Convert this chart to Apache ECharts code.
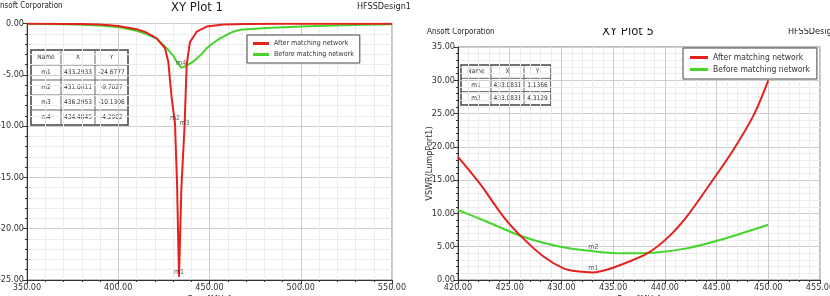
<!DOCTYPE html>
<html>
<head>
<meta charset="utf-8">
<script src="https://cdn.jsdelivr.net/npm/echarts@6/dist/echarts.min.js"></script>
<style>
  html, body { margin: 0; padding: 0; background: #fff; }
  #chart { width: 830px; height: 296px; }
</style>
</head>
<body>
<div id="chart"></div>
<script>
// ---- XY Plot 1 : dB(S(1,1)) vs Freq ----
const s11FreqAfter = [350, 360, 370, 380, 390, 400, 410, 415, 421, 425.6, 427.4, 429.3, 431.08, 432.2, 433.29, 434.6, 436.3, 437.5, 439.3, 443, 448.5, 457.5, 470, 490, 520, 550];
const s11After     = [-0.02, -0.03, -0.04, -0.06, -0.1, -0.25, -0.55, -0.85, -1.45, -2.4, -3.7, -7.3, -9.70, -15.5, -24.68, -16.0, -10.13, -4.0, -1.8, -0.8, -0.3, -0.1, -0.05, -0.03, -0.02, -0.02];
const s11FreqBefore = [350, 370, 380, 390, 400, 410, 415, 421, 426.5, 430, 432, 434.48, 435.7, 438, 441.2, 445, 448.5, 452, 455.8, 460, 463, 467, 475, 481.5, 500, 518, 535, 550];
const s11Before     = [-0.03, -0.08, -0.12, -0.2, -0.35, -0.7, -1.0, -1.45, -2.4, -3.1, -3.7, -4.30, -4.25, -4.05, -3.7, -3.1, -2.4, -1.9, -1.45, -1.05, -0.8, -0.6, -0.5, -0.45, -0.3, -0.2, -0.12, -0.08];
const s11MarkerNames = ['m1', 'm2', 'm3', 'm4'];
const s11MarkerX = ['433.2933', '431.0811', '436.2953', '434.4845'];
const s11MarkerY = ['-24.6777', '-9.7027', '-10.1306', '-4.2962'];

// ---- XY Plot 5 : VSWR(LumpPort1) vs Freq ----
const vswrFreqAfter = [420, 422.1, 424.4, 426.3, 428.3, 430.2, 431.5, 433.08, 434.3, 435.7, 438.3, 440.2, 442.1, 444.4, 446.6, 448.6, 450];
const vswrAfter     = [18.5, 14.5, 9.5, 6.25, 3.5, 1.75, 1.3, 1.14, 1.5, 2.25, 4.0, 6.25, 9.5, 14.5, 19.5, 24.8, 30.0];
const vswrFreqBefore = [420, 422.8, 426.3, 429.9, 433.08, 435.7, 438.9, 442.1, 445.3, 450];
const vswrBefore     = [10.5, 8.75, 6.5, 5.0, 4.31, 4.0, 4.1, 4.75, 6.0, 8.3];
const vswrMarkerNames = ['m1', 'm2'];
const vswrMarkerX = ['433.0831', '433.0831'];
const vswrMarkerY = ['1.1366', '4.3129'];

const seriesNames = ['After matching network', 'Before matching network'];
const tableHeader = ['Name', 'X', 'Y'];

const FONT = "'Liberation Sans Narrow','DejaVu Sans Condensed','Liberation Sans',sans-serif";
const RED = '#e3221f';
const GREEN = '#45d52b';

function pairs(xs, ys) {
    return xs.map((x, i) => [x, ys[i]]);
}

function xAxisOf(gridIndex, min, max, interval) {
    return {
        type: 'value', gridIndex: gridIndex, min: min, max: max, interval: interval,
        position: 'bottom',
        name: 'Freq [MHz]', nameLocation: 'middle', nameGap: 15, nameMoveOverlap: false,
        nameTextStyle: { fontFamily: FONT, fontSize: 9, color: '#333' },
        axisLine: { onZero: false, lineStyle: { color: '#333', width: 1 } },
        axisTick: { length: 4, lineStyle: { color: '#333' } },
        minorTick: { show: true, splitNumber: 5, length: 2, lineStyle: { color: '#333' } },
        axisLabel: { fontFamily: FONT, fontSize: 9, color: '#333', margin: 3, formatter: v => v.toFixed(2) },
        splitLine: { show: true, lineStyle: { color: '#cdcdcd' } },
        minorSplitLine: { show: true, lineStyle: { color: '#ececec' } }
    };
}

function yAxisOf(gridIndex, min, max, interval, name) {
    return {
        type: 'value', gridIndex: gridIndex, min: min, max: max, interval: interval,
        name: name, nameLocation: 'middle', nameGap: 24, nameMoveOverlap: false,
        nameTextStyle: { fontFamily: FONT, fontSize: 9, color: '#333' },
        axisLine: { show: true, onZero: false, lineStyle: { color: '#333', width: 1 } },
        axisTick: { show: true, length: 4, lineStyle: { color: '#333' } },
        minorTick: { show: true, splitNumber: 5, length: 2, lineStyle: { color: '#333' } },
        axisLabel: { fontFamily: FONT, fontSize: 9, color: '#333', margin: 3, formatter: v => v.toFixed(2) },
        splitLine: { show: true, lineStyle: { color: '#cdcdcd' } },
        minorSplitLine: { show: true, lineStyle: { color: '#ececec' } }
    };
}

function lineSeries(name, idx, xs, ys, color, smooth) {
    return {
        name: name, type: 'line', xAxisIndex: idx, yAxisIndex: idx,
        data: pairs(xs, ys), showSymbol: false, smooth: smooth, clip: true,
        lineStyle: { color: color, width: 2 }, itemStyle: { color: color }, z: 3
    };
}

function markerSeries(idx, names, xs, ys) {
    return {
        type: 'scatter', xAxisIndex: idx, yAxisIndex: idx, symbolSize: 2, z: 5,
        itemStyle: { color: 'rgba(0,0,0,0)' },
        data: names.map((n, i) => ({ name: n, value: [+xs[i], +ys[i]] })),
        label: { show: true, position: 'top', distance: 0, formatter: '{b}', fontFamily: FONT, fontSize: 7, color: '#333' },
        silent: true
    };
}

function legendOf(left, top, fontSize, padding, gap, iconW) {
    return {
        data: seriesNames, orient: 'vertical', left: left, top: top,
        backgroundColor: '#fff', borderColor: '#444', borderWidth: 1,
        padding: padding, itemGap: gap, itemWidth: iconW, itemHeight: 3, icon: 'rect',
        textStyle: { fontFamily: FONT, fontSize: fontSize, color: '#333' }
    };
}

// marker table drawn as rect + text cells
function markerTable(x0, y0, colW, rowH, names, xs, ys) {
    const rows = [tableHeader].concat(names.map((n, i) => [n, xs[i], ys[i]]));
    const children = [];
    const totalW = colW.reduce((a, b) => a + b, 0);
    const totalH = rowH * rows.length;
    children.push({ type: 'rect', shape: { x: x0, y: y0, width: totalW, height: totalH },
        style: { fill: '#fff', stroke: '#444', lineWidth: 1.5 } });
    rows.forEach((r, ri) => {
        if (ri > 0) {
            children.push({ type: 'line', shape: { x1: x0, y1: y0 + ri * rowH, x2: x0 + totalW, y2: y0 + ri * rowH },
                style: { stroke: '#666', lineWidth: 1 } });
        }
        let cx = x0;
        r.forEach((cell, ci) => {
            children.push({ type: 'text', x: cx + colW[ci] / 2, y: y0 + ri * rowH + rowH / 2,
                style: { text: cell, fontFamily: FONT, fontSize: 6.5, fill: '#333', align: 'center', verticalAlign: 'middle' } });
            cx += colW[ci];
        });
    });
    let cx = x0;
    colW.slice(0, -1).forEach(w => {
        cx += w;
        children.push({ type: 'line', shape: { x1: cx, y1: y0, x2: cx, y2: y0 + totalH },
            style: { stroke: '#666', lineWidth: 1 } });
    });
    return { type: 'group', z: 100, children: children };
}

function label(x, y, text, size, align) {
    return { type: 'text', x: x, y: y, z: 50,
        style: { text: text, fontFamily: FONT, fontSize: size, fill: '#222', align: align || 'left', verticalAlign: 'middle' } };
}

const chart = echarts.init(document.getElementById('chart'));

chart.setOption({
    animation: false,
    backgroundColor: '#fff',
    grid: [
        { left: 27, top: 23.5, width: 365, height: 256.5, show: true, borderColor: '#888', borderWidth: 1, outerBoundsMode: 'none' },
        { left: 458, top: 47, width: 362, height: 233, show: true, borderColor: '#777', borderWidth: 1, outerBoundsMode: 'none' }
    ],
    xAxis: [xAxisOf(0, 350, 550, 50), xAxisOf(1, 420, 455, 5)],
    yAxis: [yAxisOf(0, -25, 0, 5, ''), yAxisOf(1, 0, 35, 5, 'VSWR(LumpPort1)')],
    legend: [
        legendOf(247, 35, 7, [5, 6, 5, 6], 4, 16),
        legendOf(683, 48, 8.5, [5, 7, 5, 7], 3, 18)
    ],
    series: [
        lineSeries(seriesNames[1], 0, s11FreqBefore, s11Before, GREEN, false),
        lineSeries(seriesNames[0], 0, s11FreqAfter, s11After, RED, false),
        lineSeries(seriesNames[1], 1, vswrFreqBefore, vswrBefore, GREEN, 0.3),
        lineSeries(seriesNames[0], 1, vswrFreqAfter, vswrAfter, RED, 0.3),
        markerSeries(0, s11MarkerNames, s11MarkerX, s11MarkerY),
        markerSeries(1, vswrMarkerNames, vswrMarkerX, vswrMarkerY)
    ],
    graphic: [
        label(197, 8, 'XY Plot 1', 13, 'center'),
        label(-5, 6, 'Ansoft Corporation', 8),
        label(357, 7, 'HFSSDesign1', 9),
        label(628, 32, 'XY Plot 5', 13, 'center'),
        label(427, 32, 'Ansoft Corporation', 8),
        label(788, 32, 'HFSSDesign1', 9),
        // top band of the second screenshot is cropped
        { type: 'rect', z: 60, shape: { x: 410, y: 0, width: 420, height: 28 }, style: { fill: '#fff' } },
        markerTable(31, 50, [30, 34, 33], 15, s11MarkerNames, s11MarkerX, s11MarkerY),
        markerTable(461, 65, [30, 33, 27], 13.3, vswrMarkerNames, vswrMarkerX, vswrMarkerY)
    ]
});
</script>
</body>
</html>
